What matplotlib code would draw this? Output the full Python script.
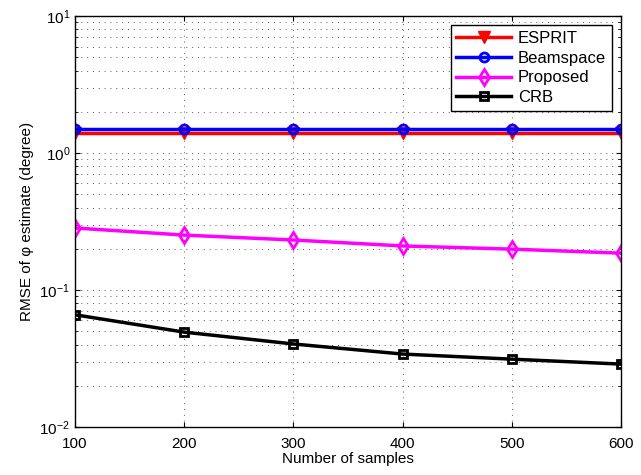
import matplotlib
matplotlib.use('Agg')
import matplotlib.pyplot as plt
import numpy as np

plt.rcParams['font.family'] = ['Liberation Sans', 'DejaVu Sans']

# Data
samples = [100, 200, 300, 400, 500, 600]
esprit = [1.40, 1.40, 1.40, 1.40, 1.40, 1.40]
beamspace = [1.50, 1.50, 1.50, 1.50, 1.50, 1.50]
proposed = [0.284, 0.252, 0.232, 0.210, 0.199, 0.186]
crb = [0.066, 0.0493, 0.0404, 0.0341, 0.0313, 0.0288]

fig = plt.figure(figsize=(6.41, 4.75), dpi=100)
ax = fig.add_axes([0.117, 0.101, 0.852, 0.865])

ax.plot(samples, esprit, color='red', lw=2.5, marker='v', ms=8,
        markerfacecolor='red', label='ESPRIT')
ax.plot(samples, beamspace, color='blue', lw=2.5, marker='o', ms=6.5,
        markerfacecolor='none', mew=2, label='Beamspace')
ax.plot(samples, proposed, color='magenta', lw=2.5, marker='d', ms=8,
        markerfacecolor='none', mew=2, label='Proposed')
ax.plot(samples, crb, color='black', lw=2.5, marker='s', ms=6,
        markerfacecolor='none', mew=2, label='CRB')

ax.set_yscale('log')
ax.set_xlim(100, 600)
ax.set_ylim(1e-2, 1e1)
ax.set_xticks(samples)
dots = (0, (1, 5))
ax.grid(True, which='major', linestyle=dots, color='0.35', lw=0.7)
ax.grid(True, which='minor', axis='y', linestyle=dots, color='0.35', lw=0.7)
ax.tick_params(which='both', direction='in', top=True, right=True, labelsize=11)
ax.tick_params(axis='x', pad=7)
for s in ax.spines.values():
    s.set_linewidth(1.0)

ax.set_xlabel('Number of samples', fontsize=11, labelpad=1)
ax.set_ylabel('RMSE of φ estimate (degree)', fontsize=11)

leg = ax.legend(loc='upper right', fontsize=12, fancybox=False, framealpha=1,
                edgecolor='black', handlelength=3.3, borderaxespad=0.55,
                labelspacing=0.28, borderpad=0.35, handletextpad=0.4)
leg.get_frame().set_linewidth(1.0)

fig.savefig('out.png', dpi=100)
